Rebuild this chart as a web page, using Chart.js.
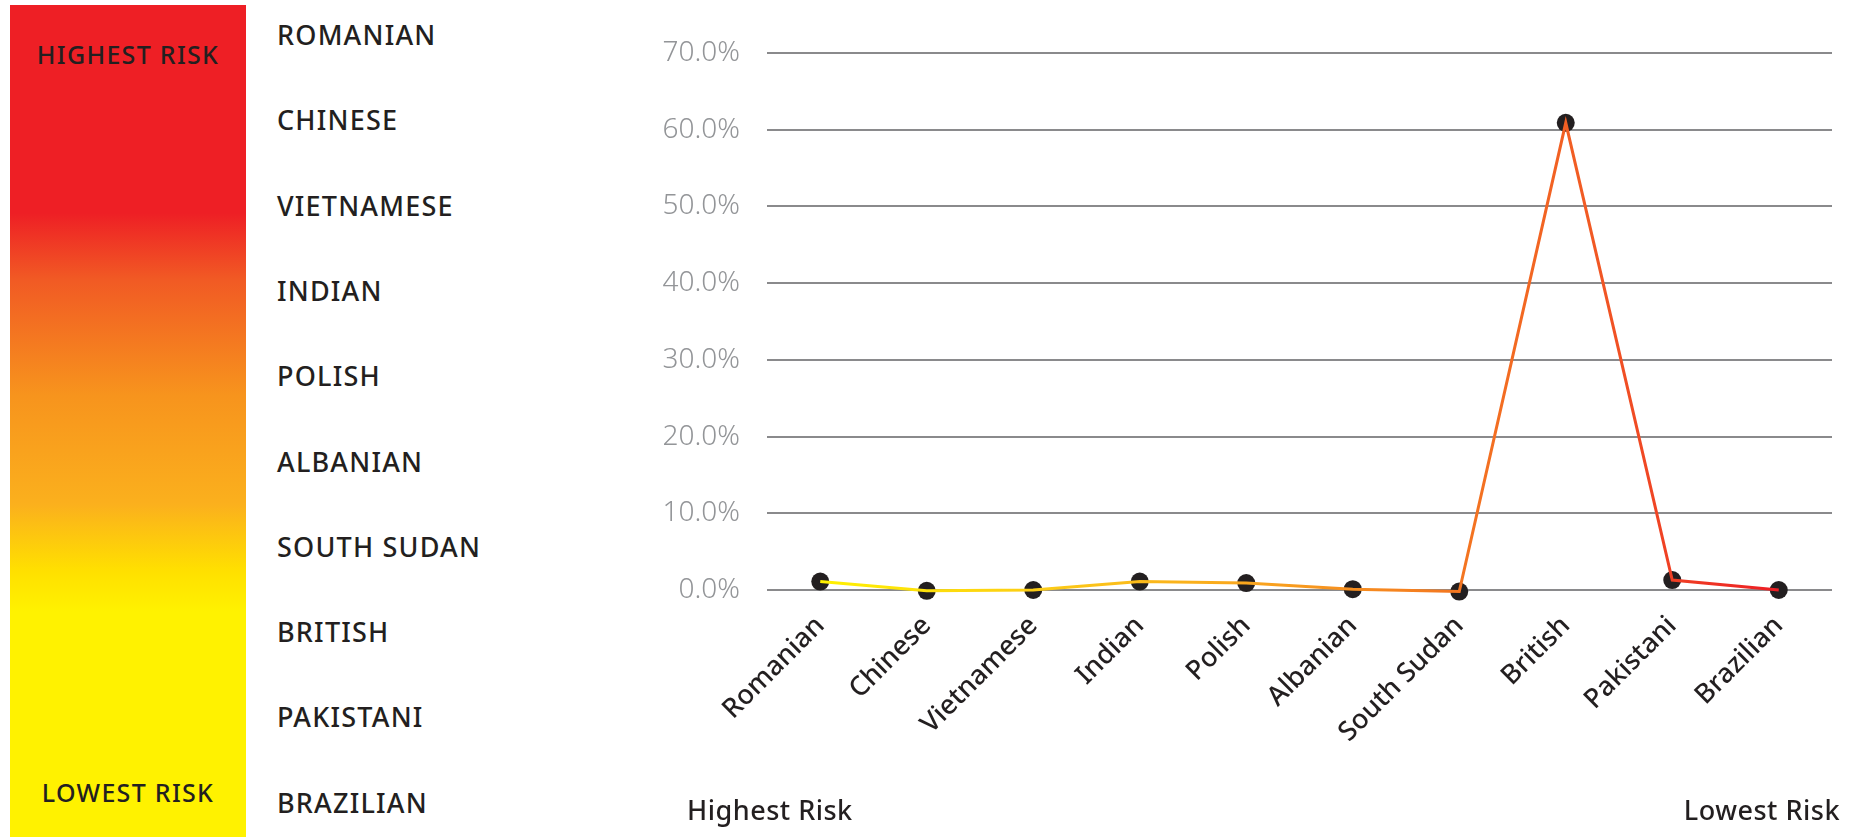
<!DOCTYPE html>
<html>
<head>
<meta charset="utf-8">
<script src="https://cdn.jsdelivr.net/npm/chart.js@4.4.1/dist/chart.umd.min.js"></script>
<style>
  html, body { margin: 0; padding: 0; background: #fff; }
  body { width: 1858px; height: 837px; position: relative; overflow: hidden; font-family: "Noto Sans", sans-serif; color: #231f20; }
  #riskBar {
    position: absolute; left: 10px; top: 5px; width: 236px; height: 832px;
    background: linear-gradient(to bottom, #ee1f25 0%, #ee1f25 25%, #f15a24 33%, #f7941d 47%, #fbb01d 60%, #ffe000 68%, #fff200 73%, #fff200 100%);
  }
  .barLabel { position: absolute; left: 0; width: 236px; text-align: center; font-size: 25px; font-weight: 500; letter-spacing: 1.3px; }
  .nameLabel { position: absolute; left: 277px; font-size: 27px; font-weight: 500; letter-spacing: 1.2px; line-height: 30px; }
  #chartBox { position: absolute; left: 600px; top: 0; width: 1258px; height: 837px; }
  .footLabel { position: absolute; top: 791px; font-size: 27px; font-weight: 500; letter-spacing: 0.5px; }
</style>
</head>
<body>
<div id="riskBar">
  <div class="barLabel" style="top: 32px;">HIGHEST RISK</div>
  <div class="barLabel" style="top: 770px;">LOWEST RISK</div>
</div>
<div id="nameList"></div>
<div id="chartBox"><canvas id="riskChart"></canvas></div>
<div class="footLabel" style="left: 687px;">Highest Risk</div>
<div class="footLabel" style="right: 18px;">Lowest Risk</div>

<script>
// Nationalities, ordered from highest to lowest risk
const categories = ["Romanian", "Chinese", "Vietnamese", "Indian", "Polish", "Albanian", "South Sudan", "British", "Pakistani", "Brazilian"];

// Percentage per nationality
const riskValues = [1.1, -0.1, 0.0, 1.1, 0.9, 0.1, -0.2, 60.9, 1.3, 0.0];

// Y axis tick range
const yMin = 0;
const yMax = 70;
const yStep = 10;

// Left-hand ranked list
const nameList = document.getElementById("nameList");
categories.forEach((name, i) => {
  const div = document.createElement("div");
  div.className = "nameLabel";
  div.style.top = (20 + i * 85.3) + "px";
  div.textContent = name.toUpperCase();
  nameList.appendChild(div);
});

// Gradient along the line, yellow to red
function lineGradient(context) {
  const chart = context.chart;
  const area = chart.chartArea;
  if (!area) return "#f7941d";
  const g = chart.ctx.createLinearGradient(area.left + 50, 0, area.right - 50, 0);
  g.addColorStop(0, "#fff200");
  g.addColorStop(0.25, "#fcc917");
  g.addColorStop(0.45, "#f9a51e");
  g.addColorStop(0.65, "#f47920");
  g.addColorStop(0.8, "#f15a24");
  g.addColorStop(1, "#ed1c24");
  return g;
}

const ctx = document.getElementById("riskChart").getContext("2d");
new Chart(ctx, {
  type: "line",
  data: {
    labels: categories,
    datasets: [
      {
        label: "line",
        data: riskValues,
        borderColor: lineGradient,
        borderWidth: 3,
        pointRadius: 0,
        tension: 0,
        clip: false,
        order: 1
      },
      {
        label: "points",
        data: riskValues,
        showLine: false,
        pointRadius: 9,
        pointBackgroundColor: "#231f20",
        pointBorderWidth: 0,
        clip: false,
        order: 2
      }
    ]
  },
  options: {
    responsive: true,
    maintainAspectRatio: false,
    animation: false,
    layout: { padding: { top: 53, right: 26, left: 0, bottom: 0 } },
    plugins: {
      legend: { display: false },
      tooltip: { enabled: false }
    },
    scales: {
      x: {
        offset: true,
        grid: { display: false, drawTicks: false },
        border: { display: false },
        afterFit: scale => { scale.height = 247; },
        ticks: {
          minRotation: 45,
          maxRotation: 45,
          padding: 20,
          color: "#231f20",
          font: { family: "Noto Sans", size: 27, weight: 500 }
        }
      },
      y: {
        min: yMin,
        max: yMax,
        afterFit: scale => { scale.width = 167; },
        grid: { color: "#8a8a8c", lineWidth: 2, drawTicks: false },
        border: { display: false },
        ticks: {
          stepSize: yStep,
          padding: 27,
          color: "#939598",
          font: { family: "Noto Sans", size: 28, weight: 300 },
          callback: value => value.toFixed(1) + "%"
        }
      }
    }
  }
});
</script>
</body>
</html>
